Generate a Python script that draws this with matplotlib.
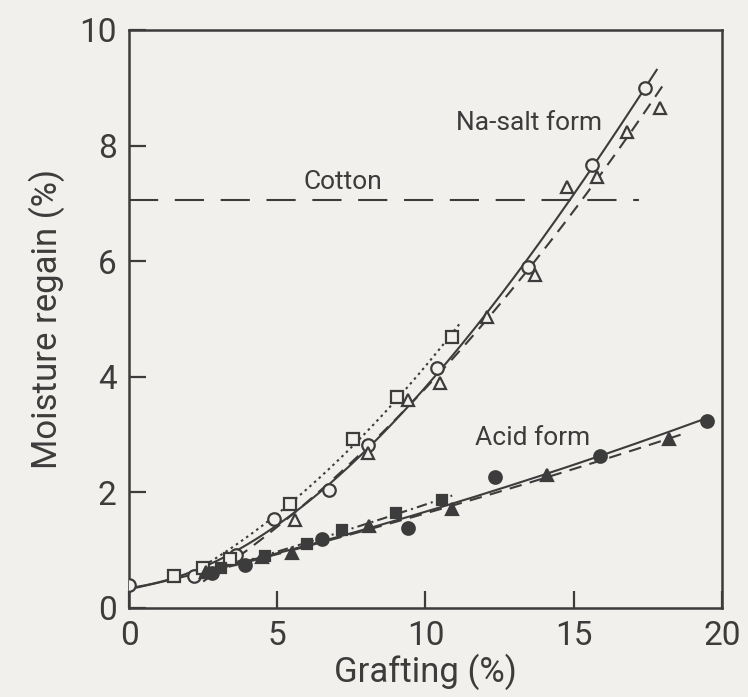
import matplotlib
matplotlib.use("Agg")
import matplotlib.pyplot as plt
import numpy as np

plt.rcParams["font.family"] = ["Roboto", "DejaVu Sans"]

# Na-salt form, open symbols
na_circle_x = [0.0, 2.2, 3.6, 4.9, 6.75, 8.05, 10.4, 13.46, 15.6, 17.4]
na_circle_y = [0.40, 0.55, 0.92, 1.54, 2.04, 2.82, 4.15, 5.90, 7.66, 9.00]
na_tri_x = [2.6, 5.6, 8.05, 9.4, 10.5, 12.07, 13.7, 14.77, 15.8, 16.8, 17.9]
na_tri_y = [0.62, 1.52, 2.68, 3.60, 3.89, 5.03, 5.76, 7.28, 7.46, 8.24, 8.65]
na_sq_x = [1.5, 2.5, 3.4, 5.43, 7.56, 9.03, 10.9]
na_sq_y = [0.55, 0.70, 0.85, 1.80, 2.92, 3.65, 4.69]

# Acid form, filled symbols
ac_circle_x = [2.8, 3.9, 6.5, 9.4, 12.35, 15.9, 19.5]
ac_circle_y = [0.60, 0.75, 1.20, 1.38, 2.27, 2.63, 3.24]
ac_tri_x = [2.6, 4.5, 5.5, 8.1, 10.9, 14.1, 18.2]
ac_tri_y = [0.62, 0.88, 0.95, 1.42, 1.71, 2.30, 2.92]
ac_sq_x = [3.1, 4.6, 6.0, 7.2, 9.0, 10.55]
ac_sq_y = [0.70, 0.90, 1.10, 1.35, 1.64, 1.87]

# untreated cotton
cotton_level = 7.06
cotton_span = [0, 17.2]

x_ticks = [0, 5, 10, 15, 20]
y_ticks = [0, 2, 4, 6, 8, 10]

ink = "#3c3c3c"
paper = "#f2f0ec"

fig = plt.figure(figsize=(7.48, 6.97), dpi=100)
fig.patch.set_facecolor(paper)
ax = fig.add_axes([0.1725, 0.1277, 0.7927, 0.8293])
ax.set_facecolor(paper)


def fit_curve(xs, ys, x0, x1, ls, deg=2):
    coef = np.polyfit(xs, ys, deg)
    xx = np.linspace(x0, x1, 200)
    ax.plot(xx, np.polyval(coef, xx), color=ink, linestyle=ls,
            linewidth=1.5, zorder=2)


# fitted curves
fit_curve(na_circle_x, na_circle_y, 0.0, 17.8, "-", deg=3)
fit_curve(na_tri_x, na_tri_y, 2.5, 18.0, (0, (6, 4)))
fit_curve(na_sq_x, na_sq_y, 2.0, 11.2, (0, (1.2, 1.8)))
fit_curve([0.0] + ac_circle_x, [0.40] + ac_circle_y, 0.0, 19.5, "-")
fit_curve(ac_tri_x, ac_tri_y, 2.0, 18.7, (0, (6, 4)))
fit_curve(ac_sq_x, ac_sq_y, 3.0, 10.9, (0, (5, 2, 1, 2)))

ax.plot(cotton_span, [cotton_level, cotton_level], color=ink, linewidth=1.5,
        linestyle=(0, (14, 8)), zorder=2)

mk = dict(linestyle="none", color=ink, markeredgewidth=1.6, zorder=3)
ax.plot(na_circle_x, na_circle_y, "o", markersize=9, markerfacecolor=paper, **mk)
ax.plot(na_tri_x, na_tri_y, "^", markersize=9, markerfacecolor=paper, **mk)
ax.plot(na_sq_x, na_sq_y, "s", markersize=8, markerfacecolor=paper, **mk)
ax.plot(ac_circle_x, ac_circle_y, "o", markersize=9, markerfacecolor=ink, **mk)
ax.plot(ac_tri_x, ac_tri_y, "^", markersize=9, markerfacecolor=ink, **mk)
ax.plot(ac_sq_x, ac_sq_y, "s", markersize=7, markerfacecolor=ink, **mk)

txt = dict(color=ink, fontsize=19, ha="center", va="center")
ax.text(13.5, 8.39, "Na-salt form", **txt)
ax.text(7.2, 7.37, "Cotton", **txt)
ax.text(13.6, 2.94, "Acid form", **txt)

ax.set_xlim(0, 20)
ax.set_ylim(0, 10)
ax.set_xticks(x_ticks)
ax.set_yticks(y_ticks)
ax.tick_params(direction="in", length=12, width=1.6, color=ink,
               labelcolor=ink, labelsize=24, pad=9)
for s in ax.spines.values():
    s.set_color(ink)
    s.set_linewidth(1.8)

ax.set_xlabel("Grafting (%)", fontsize=25, color=ink, labelpad=1)
ax.set_ylabel("Moisture regain (%)", fontsize=25, color=ink, labelpad=10)

fig.savefig("out.png", dpi=100, facecolor=paper)
